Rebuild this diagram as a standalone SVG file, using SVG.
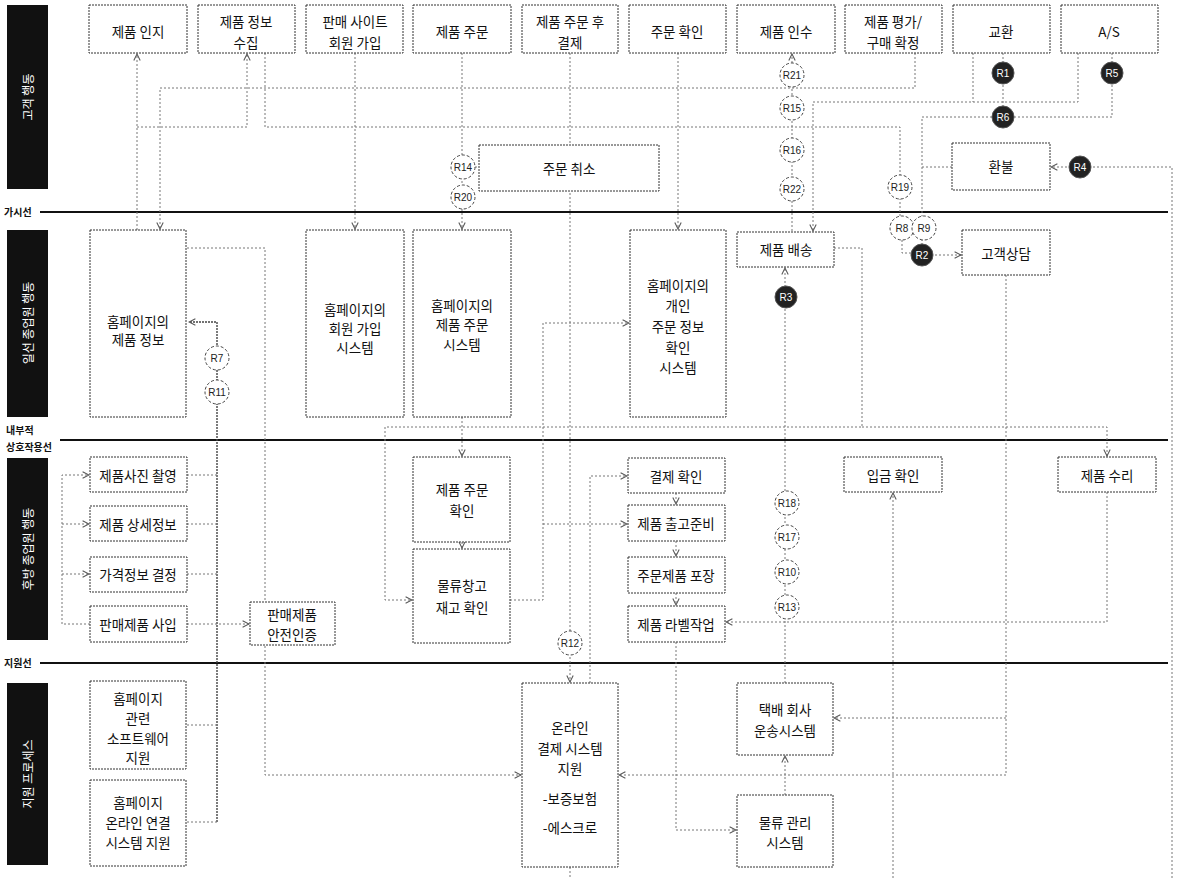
<svg xmlns="http://www.w3.org/2000/svg" width="1180" height="878" viewBox="0 0 1180 878">
<defs>
<style>
.bg{fill:#fff}
.box{fill:#fff;stroke:#333;stroke-width:1;stroke-dasharray:2 1}
.t{font-family:"Noto Sans CJK KR","Noto Sans CJK SC",sans-serif;font-size:13.5px;fill:#111;text-anchor:middle;dominant-baseline:central}
.lane{fill:#111}
.lt{font-family:"Noto Sans CJK KR","Noto Sans CJK SC",sans-serif;font-size:12px;fill:#fff;text-anchor:middle;dominant-baseline:central}
.ll{font-family:"Noto Sans CJK KR","Noto Sans CJK SC",sans-serif;font-size:10px;fill:#111;font-weight:bold}
.sep{stroke:#111;stroke-width:2.2}
.c{fill:none;stroke:#777;stroke-width:1;stroke-dasharray:2 2}
.cd{fill:none;stroke:#444;stroke-width:1.4;stroke-dasharray:2 1}
.rc{fill:#fff;stroke:#444;stroke-width:1;stroke-dasharray:3 2}
.rf{fill:#222;stroke:#555;stroke-width:1}
.rt{font-family:"Liberation Sans",sans-serif;font-size:10px;fill:#222;text-anchor:middle;dominant-baseline:central}
.rw{font-family:"Liberation Sans",sans-serif;font-size:10px;fill:#fff;text-anchor:middle;dominant-baseline:central}
</style>
<marker id="ah" viewBox="0 0 10 10" refX="9" refY="5" markerWidth="8" markerHeight="8" orient="auto-start-reverse" markerUnits="userSpaceOnUse">
<path d="M1,1 L9,5 L1,9" fill="none" stroke="#555" stroke-width="1.3"/>
</marker>
</defs>
<rect class="bg" x="0" y="0" width="1180" height="878"/>

<g id="lanes">
<rect class="lane" x="7" y="5" width="41" height="184"/>
<text class="lt" transform="translate(27.5,97) rotate(-90)">고객 행동</text>
<rect class="lane" x="7" y="230" width="41" height="187"/>
<text class="lt" transform="translate(27.5,323) rotate(-90)">일선 종업원 행동</text>
<rect class="lane" x="7" y="458" width="41" height="182"/>
<text class="lt" transform="translate(27.5,549) rotate(-90)">후방 종업원 행동</text>
<rect class="lane" x="7" y="683" width="41" height="182"/>
<text class="lt" transform="translate(27.5,774) rotate(-90)">지원 프로세스</text>
<line class="sep" x1="40" y1="212" x2="1168" y2="212"/>
<line class="sep" x1="60" y1="440" x2="1168" y2="440"/>
<line class="sep" x1="40" y1="663" x2="1168" y2="663"/>
<text class="ll" x="4" y="216">가시선</text>
<text class="ll" x="6" y="434">내부적</text>
<text class="ll" x="6" y="451">상호작용선</text>
<text class="ll" x="4" y="667">지원선</text>
</g>

<g id="connectors">
<path class="c" d="M915,53 V88 H160 V229" marker-end="url(#ah)"/>
<path class="c" d="M137,230 V54" marker-end="url(#ah)"/>
<path class="c" d="M137,127 H247 V54" marker-end="url(#ah)"/>
<path class="c" d="M265,53 V127 H900 V228"/>
<path class="c" d="M902,228 V253 H922"/>
<path class="c" d="M935,255 H961" marker-end="url(#ah)"/>
<path class="c" d="M355,53 V229" marker-end="url(#ah)"/>
<path class="c" d="M462,53 V229" marker-end="url(#ah)"/>
<path class="c" d="M463,167 H479"/>
<path class="c" d="M570,53 V682" marker-end="url(#ah)"/>
<path class="c" d="M678,53 V229" marker-end="url(#ah)"/>
<path class="c" d="M792,231 V54" marker-end="url(#ah)"/>
<path class="c" d="M1078,53 V102 H813 V231" marker-end="url(#ah)"/>
<path class="c" d="M973,53 V102"/>
<path class="c" d="M1003,53 V117"/>
<path class="c" d="M1112,53 V117 H922 V255"/>
<path class="c" d="M952,167 H922"/>
<path class="c" d="M1172,878 V167 H1051" marker-end="url(#ah)"/>
<path class="c" d="M187,248 H265 V775 H521" marker-end="url(#ah)"/>
<path class="cd" d="M217,822 V322 H189" marker-end="url(#ah)"/>
<path class="c" d="M187,725 H217"/>
<path class="c" d="M187,822 H217"/>
<path class="c" d="M187,475 H217"/>
<path class="c" d="M187,524 H217"/>
<path class="c" d="M187,574 H217"/>
<path class="c" d="M462,417 V456" marker-end="url(#ah)"/>
<path class="c" d="M462,542 V548" marker-end="url(#ah)"/>
<path class="c" d="M834,248 H862 V427 H385 V600 H412" marker-end="url(#ah)"/>
<path class="c" d="M862,427 H1107 V456" marker-end="url(#ah)"/>
<path class="c" d="M1006,275 V775 H619" marker-end="url(#ah)"/>
<path class="c" d="M1006,718 H834" marker-end="url(#ah)"/>
<path class="c" d="M510,600 H543 V323 H629" marker-end="url(#ah)"/>
<path class="c" d="M543,524 H627" marker-end="url(#ah)"/>
<path class="c" d="M590,683 V476 H627" marker-end="url(#ah)"/>
<path class="c" d="M676,493 V504" marker-end="url(#ah)"/>
<path class="c" d="M676,541 V556" marker-end="url(#ah)"/>
<path class="c" d="M676,593 V605" marker-end="url(#ah)"/>
<path class="c" d="M676,642 V830 H736" marker-end="url(#ah)"/>
<path class="c" d="M785,795 V756" marker-end="url(#ah)"/>
<path class="c" d="M785,683 V268" marker-end="url(#ah)"/>
<path class="c" d="M1107,492 V622 H726" marker-end="url(#ah)"/>
<path class="c" d="M893,878 V493" marker-end="url(#ah)"/>
<path class="c" d="M570,867 V878"/>
<path class="c" d="M90,624 H62 V475 H89" marker-end="url(#ah)"/>
<path class="c" d="M62,524 H89" marker-end="url(#ah)"/>
<path class="c" d="M62,574 H89" marker-end="url(#ah)"/>
<path class="c" d="M187,624 H249" marker-end="url(#ah)"/>
</g>

<g id="n-awareness"><rect class="box" x="89" y="5" width="98" height="48"/><text class="t" x="138" y="31">제품 인지</text></g>
<g id="n-info-collect"><rect class="box" x="198" y="5" width="97" height="48"/><text class="t" x="246" y="21">제품 정보</text><text class="t" x="246" y="42">수집</text></g>
<g id="n-signup"><rect class="box" x="306" y="5" width="97" height="48"/><text class="t" x="355" y="21">판매 사이트</text><text class="t" x="355" y="42">회원 가입</text></g>
<g id="n-order"><rect class="box" x="413" y="5" width="98" height="48"/><text class="t" x="462" y="31">제품 주문</text></g>
<g id="n-pay"><rect class="box" x="522" y="5" width="96" height="48"/><text class="t" x="570" y="21">제품 주문 후</text><text class="t" x="570" y="42">결제</text></g>
<g id="n-order-check"><rect class="box" x="629" y="5" width="97" height="48"/><text class="t" x="677" y="31">주문 확인</text></g>
<g id="n-receive"><rect class="box" x="737" y="5" width="98" height="48"/><text class="t" x="786" y="31">제품 인수</text></g>
<g id="n-evaluate"><rect class="box" x="845" y="5" width="97" height="48"/><text class="t" x="893" y="21">제품 평가/</text><text class="t" x="893" y="42">구매 확정</text></g>
<g id="n-exchange"><rect class="box" x="953" y="5" width="97" height="48"/><text class="t" x="1001" y="31">교환</text></g>
<g id="n-as"><rect class="box" x="1061" y="5" width="97" height="48"/><text class="t" x="1109" y="31">A/S</text></g>
<g id="n-cancel"><rect class="box" x="479" y="145" width="180" height="46"/><text class="t" x="569" y="168">주문 취소</text></g>
<g id="n-refund"><rect class="box" x="952" y="143" width="98" height="47"/><text class="t" x="1001" y="166">환불</text></g>

<g id="n-hp-info"><rect class="box" x="90" y="230" width="96" height="187"/><text class="t" x="138" y="321">홈페이지의</text><text class="t" x="138" y="339">제품 정보</text></g>
<g id="n-hp-signup"><rect class="box" x="306" y="230" width="98" height="187"/><text class="t" x="355" y="309">홈페이지의</text><text class="t" x="355" y="328">회원 가입</text><text class="t" x="355" y="347">시스템</text></g>
<g id="n-hp-order"><rect class="box" x="413" y="230" width="98" height="187"/><text class="t" x="462" y="305">홈페이지의</text><text class="t" x="462" y="324">제품 주문</text><text class="t" x="462" y="344">시스템</text></g>
<g id="n-hp-personal"><rect class="box" x="630" y="230" width="96" height="187"/><text class="t" x="678" y="285">홈페이지의</text><text class="t" x="678" y="305">개인</text><text class="t" x="678" y="326">주문 정보</text><text class="t" x="678" y="347">확인</text><text class="t" x="678" y="367">시스템</text></g>
<g id="n-delivery"><rect class="box" x="737" y="232" width="97" height="35"/><text class="t" x="786" y="249">제품 배송</text></g>
<g id="n-consult"><rect class="box" x="962" y="230" width="88" height="45"/><text class="t" x="1006" y="253">고객상담</text></g>

<g id="n-photo"><rect class="box" x="90" y="457" width="97" height="35"/><text class="t" x="138" y="475">제품사진 촬영</text></g>
<g id="n-detail"><rect class="box" x="90" y="506" width="97" height="35"/><text class="t" x="138" y="524">제품 상세정보</text></g>
<g id="n-price"><rect class="box" x="90" y="557" width="97" height="35"/><text class="t" x="138" y="574">가격정보 결정</text></g>
<g id="n-purchase"><rect class="box" x="90" y="606" width="97" height="36"/><text class="t" x="138" y="624">판매제품 사입</text></g>
<g id="n-cert"><rect class="box" x="250" y="602" width="85" height="43"/><text class="t" x="292" y="614">판매제품</text><text class="t" x="292" y="634">안전인증</text></g>
<g id="n-order-confirm"><rect class="box" x="413" y="457" width="97" height="85"/><text class="t" x="462" y="489">제품 주문</text><text class="t" x="462" y="510">확인</text></g>
<g id="n-stock"><rect class="box" x="413" y="549" width="97" height="94"/><text class="t" x="462" y="585">물류창고</text><text class="t" x="462" y="607">재고 확인</text></g>
<g id="n-pay-check"><rect class="box" x="628" y="458" width="97" height="35"/><text class="t" x="676" y="476">결제 확인</text></g>
<g id="n-ship-prep"><rect class="box" x="628" y="505" width="97" height="36"/><text class="t" x="676" y="523">제품 출고준비</text></g>
<g id="n-pack"><rect class="box" x="628" y="557" width="97" height="36"/><text class="t" x="676" y="575">주문제품 포장</text></g>
<g id="n-label"><rect class="box" x="628" y="606" width="97" height="36"/><text class="t" x="676" y="624">제품 라벨작업</text></g>
<g id="n-deposit"><rect class="box" x="844" y="457" width="98" height="35"/><text class="t" x="893" y="475">입금 확인</text></g>
<g id="n-repair"><rect class="box" x="1058" y="457" width="98" height="35"/><text class="t" x="1107" y="475">제품 수리</text></g>

<g id="n-sw"><rect class="box" x="90" y="681" width="96" height="88"/><text class="t" x="138" y="698">홈페이지</text><text class="t" x="138" y="718">관련</text><text class="t" x="138" y="738">소프트웨어</text><text class="t" x="138" y="757">지원</text></g>
<g id="n-online"><rect class="box" x="90" y="780" width="96" height="86"/><text class="t" x="138" y="802">홈페이지</text><text class="t" x="138" y="822">온라인 연결</text><text class="t" x="138" y="842">시스템 지원</text></g>
<g id="n-paysys"><rect class="box" x="522" y="683" width="96" height="184"/><text class="t" x="570" y="727">온라인</text><text class="t" x="570" y="748">결제 시스템</text><text class="t" x="570" y="768">지원</text><text class="t" x="570" y="798">-보증보험</text><text class="t" x="570" y="827">-에스크로</text></g>
<g id="n-courier"><rect class="box" x="737" y="683" width="96" height="72"/><text class="t" x="785" y="709">택배 회사</text><text class="t" x="785" y="730">운송시스템</text></g>
<g id="n-logistics"><rect class="box" x="737" y="795" width="96" height="72"/><text class="t" x="785" y="822">물류 관리</text><text class="t" x="785" y="842">시스템</text></g>

<g id="markers-r">
<g><circle class="rc" cx="792" cy="75" r="12"/><text class="rt" x="792" y="75">R21</text></g>
<g><circle class="rc" cx="792" cy="108" r="12"/><text class="rt" x="792" y="108">R15</text></g>
<g><circle class="rc" cx="792" cy="150" r="12"/><text class="rt" x="792" y="150">R16</text></g>
<g><circle class="rc" cx="792" cy="189" r="12"/><text class="rt" x="792" y="189">R22</text></g>
<g><circle class="rc" cx="463" cy="167" r="12"/><text class="rt" x="463" y="167">R14</text></g>
<g><circle class="rc" cx="463" cy="197" r="12"/><text class="rt" x="463" y="197">R20</text></g>
<g><circle class="rc" cx="900" cy="187" r="12"/><text class="rt" x="900" y="187">R19</text></g>
<g><circle class="rc" cx="902" cy="228" r="12"/><text class="rt" x="902" y="228">R8</text></g>
<g><circle class="rc" cx="924" cy="228" r="12"/><text class="rt" x="924" y="228">R9</text></g>
<g><circle class="rc" cx="217" cy="358" r="12"/><text class="rt" x="217" y="358">R7</text></g>
<g><circle class="rc" cx="217" cy="392" r="12"/><text class="rt" x="217" y="392">R11</text></g>
<g><circle class="rc" cx="787" cy="503" r="12"/><text class="rt" x="787" y="503">R18</text></g>
<g><circle class="rc" cx="787" cy="537" r="12"/><text class="rt" x="787" y="537">R17</text></g>
<g><circle class="rc" cx="787" cy="572" r="12"/><text class="rt" x="787" y="572">R10</text></g>
<g><circle class="rc" cx="787" cy="607" r="12"/><text class="rt" x="787" y="607">R13</text></g>
<g><circle class="rc" cx="570" cy="643" r="12"/><text class="rt" x="570" y="643">R12</text></g>
<g><circle class="rf" cx="1003" cy="73" r="11"/><text class="rw" x="1003" y="73">R1</text></g>
<g><circle class="rf" cx="1112" cy="73" r="11"/><text class="rw" x="1112" y="73">R5</text></g>
<g><circle class="rf" cx="1003" cy="117" r="11"/><text class="rw" x="1003" y="117">R6</text></g>
<g><circle class="rf" cx="1080" cy="167" r="11"/><text class="rw" x="1080" y="167">R4</text></g>
<g><circle class="rf" cx="786" cy="297" r="11"/><text class="rw" x="786" y="297">R3</text></g>
<g><circle class="rf" cx="922" cy="255" r="11"/><text class="rw" x="922" y="255">R2</text></g>
</g>
</svg>
